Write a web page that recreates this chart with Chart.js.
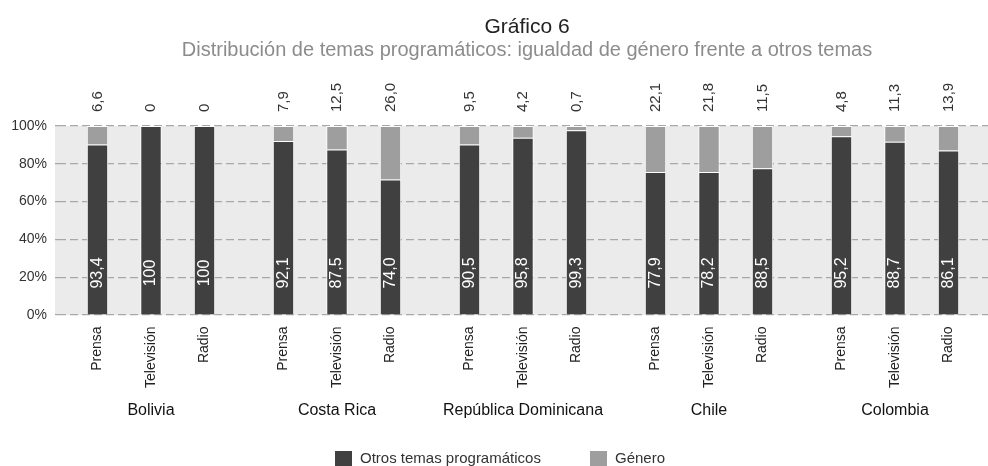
<!DOCTYPE html>
<html><head><meta charset="utf-8">
<script src="https://cdn.jsdelivr.net/npm/chart.js@4"></script>
<style>html,body{margin:0;padding:0;background:#fff}#wrap{width:988px;height:466px}</style>
</head><body><div id="wrap"><canvas id="c" width="988" height="466"></canvas></div>
<script>
const titleText = 'Gráfico 6';
const subtitleText = 'Distribución de temas programáticos: igualdad de género frente a otros temas';
const countries = ['Bolivia', 'Costa Rica', 'República Dominicana', 'Chile', 'Colombia'];
const media = ['Prensa', 'Televisión', 'Radio'];
const seriesNames = ['Otros temas programáticos', 'Género'];
// bar segment heights as drawn in the picture (%)
const otrosPrensa = [90.2, 92.0, 90.2, 75.6, 94.6];
const otrosTele   = [100, 87.6, 93.8, 75.6, 91.7];
const otrosRadio  = [100, 71.7, 97.7, 77.7, 87.1];
const generoPrensa = [9.8, 8.0, 9.8, 24.4, 5.4];
const generoTele   = [0, 12.4, 6.2, 24.4, 8.3];
const generoRadio  = [0, 28.3, 2.3, 22.3, 12.9];
// printed value labels
const otrosLabelsPrensa = ['93,4', '92,1', '90,5', '77,9', '95,2'];
const otrosLabelsTele   = ['100', '87,5', '95,8', '78,2', '88,7'];
const otrosLabelsRadio  = ['100', '74,0', '99,3', '88,5', '86,1'];
const generoLabelsPrensa = ['6,6', '7,9', '9,5', '22,1', '4,8'];
const generoLabelsTele   = ['0', '12,5', '4,2', '21,8', '11,3'];
const generoLabelsRadio  = ['0', '26,0', '0,7', '11,5', '13,9'];
const yTicks = [0, 20, 40, 60, 80, 100];

const DARK = '#404040', LIGHT = '#9e9e9e';
const FONT = '"Liberation Sans", Arial, Helvetica, sans-serif';

const otrosSets = [otrosPrensa, otrosTele, otrosRadio];
const generoSets = [generoPrensa, generoTele, generoRadio];
const otrosLabelSets = [otrosLabelsPrensa, otrosLabelsTele, otrosLabelsRadio];
const generoLabelSets = [generoLabelsPrensa, generoLabelsTele, generoLabelsRadio];

const datasets = [];
media.forEach((m, i) => {
  datasets.push({ label: seriesNames[0], stack: m, data: otrosSets[i], backgroundColor: DARK,
    borderColor: '#ffffff', borderWidth: 1, borderSkipped: 'start', _kind: 'otros', _m: i });
  datasets.push({ label: seriesNames[1], stack: m, data: generoSets[i], backgroundColor: LIGHT,
    borderColor: '#ffffff', borderWidth: 1, borderSkipped: 'start', _kind: 'genero', _m: i });
});

const decor = {
  id: 'decor',
  beforeDraw(chart) {
    const { ctx, chartArea: a } = chart;
    ctx.save();
    ctx.fillStyle = '#ebebeb';
    ctx.fillRect(55, a.top, a.right - 55, a.bottom - a.top);
    ctx.restore();
  },
  afterDatasetsDraw(chart) {
    const { ctx, chartArea: a } = chart;
    ctx.save();
    // titles
    ctx.textAlign = 'center';
    ctx.textBaseline = 'alphabetic';
    ctx.fillStyle = '#222';
    ctx.font = '21px ' + FONT;
    ctx.fillText(titleText, 527, 33);
    ctx.fillStyle = '#8c8c8c';
    ctx.font = '20px ' + FONT;
    ctx.fillText(subtitleText, 527, 56);

    chart.data.datasets.forEach((ds, di) => {
      const meta = chart.getDatasetMeta(di);
      meta.data.forEach((el, idx) => {
        const x = el.x;
        if (ds._kind === 'otros') {
          // inside label
          ctx.save();
          ctx.translate(x, 273);
          ctx.rotate(-Math.PI / 2);
          ctx.fillStyle = '#ffffff';
          ctx.font = '16px ' + FONT;
          ctx.textAlign = 'center';
          ctx.textBaseline = 'middle';
          ctx.fillText(otrosLabelSets[ds._m][idx], 0, 0);
          ctx.restore();
          // media tick label
          ctx.save();
          ctx.translate(x, 326.5);
          ctx.rotate(-Math.PI / 2);
          ctx.fillStyle = '#222';
          ctx.font = '14px ' + FONT;
          ctx.textAlign = 'right';
          ctx.textBaseline = 'middle';
          ctx.fillText(media[ds._m], 0, 0);
          ctx.restore();
        } else {
          ctx.save();
          ctx.translate(x, 112);
          ctx.rotate(-Math.PI / 2);
          ctx.fillStyle = '#333';
          ctx.font = '15px ' + FONT;
          ctx.textAlign = 'left';
          ctx.textBaseline = 'middle';
          ctx.fillText(generoLabelSets[ds._m][idx], 0, 0);
          ctx.restore();
        }
      });
    });
    // country labels
    const xs = chart.scales.x;
    ctx.fillStyle = '#111';
    ctx.font = '16px ' + FONT;
    ctx.textAlign = 'center';
    ctx.textBaseline = 'middle';
    countries.forEach((c, i) => ctx.fillText(c, xs.getPixelForValue(i), 411));
    // legend
    ctx.textAlign = 'left';
    ctx.font = '15px ' + FONT;
    ctx.fillStyle = DARK; ctx.fillRect(335, 451, 17, 17);
    ctx.fillStyle = LIGHT; ctx.fillRect(590, 451, 17, 17);
    ctx.fillStyle = '#333';
    ctx.fillText(seriesNames[0], 360, 459);
    ctx.fillText(seriesNames[1], 615, 459);
    ctx.restore();
  }
};

new Chart(document.getElementById('c'), {
  type: 'bar',
  data: { labels: countries, datasets },
  plugins: [decor],
  options: {
    responsive: false, animation: false, devicePixelRatio: 1,
    layout: { padding: { top: 126, bottom: 151, left: 0, right: 0 } },
    datasets: { bar: { categoryPercentage: 0.863, barPercentage: 0.4 } },
    plugins: { legend: { display: false }, tooltip: { enabled: false }, title: { display: false } },
    scales: {
      x: { display: false, stacked: true },
      y: {
        stacked: true, min: 0, max: 100,
        afterBuildTicks: (s) => { s.ticks = yTicks.map(v => ({ value: v })); },
        afterFit: (s) => { s.width = 58; },
        ticks: { callback: (v) => v + '%', color: '#333', font: { family: FONT, size: 14 }, padding: 8 },
        grid: { color: '#a8a8a8', lineWidth: 1.2, tickLength: 3, drawTicks: true, tickColor: '#a8a8a8', tickBorderDash: [8, 4] },
        border: { display: false, dash: [8, 4] }
      }
    }
  }
});
</script></body></html>
